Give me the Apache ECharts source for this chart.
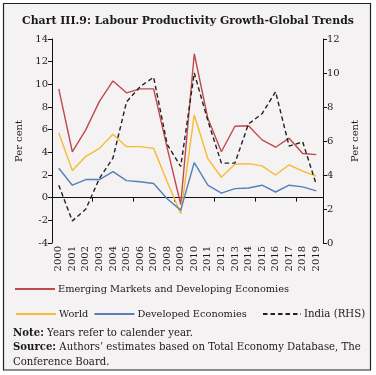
<!DOCTYPE html>
<html><head><meta charset="utf-8">
<script src="https://cdn.jsdelivr.net/npm/echarts@6/dist/echarts.min.js"></script>
<style>html,body{margin:0;padding:0;background:#fff}#c{width:376px;height:375px}</style>
</head><body><div id="c"></div>
<script>
var years = ['2000','2001','2002','2003','2004','2005','2006','2007','2008','2009','2010','2011','2012','2013','2014','2015','2016','2017','2018','2019'];
var emde = [9.6, 4.05, 6.0, 8.5, 10.3, 9.25, 9.6, 9.6, 4.4, -0.6, 12.7, 7.0, 4.05, 6.3, 6.35, 5.1, 4.45, 5.25, 3.9, 3.8];
var world = [5.7, 2.4, 3.65, 4.35, 5.6, 4.5, 4.5, 4.35, 1.4, -1.4, 7.3, 3.45, 1.8, 2.95, 3.0, 2.8, 2.0, 2.9, 2.35, 1.9];
var developed = [2.6, 1.1, 1.6, 1.6, 2.3, 1.5, 1.4, 1.25, -0.1, -1.1, 3.1, 1.1, 0.4, 0.8, 0.85, 1.1, 0.5, 1.1, 0.95, 0.6];
var india = [3.4, 1.3, 2.0, 3.8, 5.0, 8.3, 9.2, 9.75, 5.8, 4.5, 10.0, 7.2, 4.7, 4.7, 7.0, 7.6, 8.9, 5.7, 5.95, 3.45];
var leftTicks = {min: -4, max: 14, interval: 2};
var rightTicks = {min: 0, max: 12, interval: 2};
var seriesNames = ['Emerging Markets and Developing Economies', 'World', 'Developed Economies', 'India (RHS)'];

var F = 'DejaVu Serif';
var chart = echarts.init(document.getElementById('c'));
function line(name, data, color, yIdx, dashed) {
  return {
    name: name, type: 'line', data: data, xAxisIndex: 0, yAxisIndex: yIdx,
    symbol: 'none', smooth: false,
    lineStyle: {color: color, width: 1.4, type: dashed ? [4.5, 3] : 'solid'},
    itemStyle: {color: color}
  };
}
var legendCommon = {
  itemWidth: 40, itemHeight: 10,
  itemStyle: {opacity: 0},
  textStyle: {fontFamily: F, fontSize: 9.8, color: '#1a1a1a', padding: [0, 0, 0, -2]}
};
chart.setOption({
  animation: false,
  backgroundColor: '#ffffff',
  title: {
    text: 'Chart III.9: Labour Productivity Growth-Global Trends',
    left: 'center', top: 11,
    textStyle: {fontFamily: F, fontWeight: 'bold', fontSize: 10.9, color: '#1a1a1a'}
  },
  graphic: [
    {type: 'rect', z: -10, silent: true, shape: {x: 3.5, y: 3.5, width: 367, height: 366.5},
     style: {fill: '#f5f2f3', stroke: '#222', lineWidth: 1.2}},
    {type: 'text', left: 13, top: 326, style: {
      text: '{b|Note:} Years refer to calender year.\n{b|Source:} Authors\u2019 estimates based on Total Economy Database, The\nConference Board.',
      fontFamily: F, fontSize: 10.15, lineHeight: 14.5, fill: '#1a1a1a',
      rich: {b: {fontFamily: F, fontSize: 10.15, fontWeight: 'bold', fill: '#1a1a1a'}}
    }}
  ],
  grid: {left: 52, right: 53, top: 39, bottom: 132},
  legend: [
    Object.assign({data: [seriesNames[0]], left: 9, top: 279, itemGap: 10}, legendCommon),
    Object.assign({data: [seriesNames[1], seriesNames[2]], left: 10, top: 304, itemGap: 5}, legendCommon),
    Object.assign({data: [seriesNames[3]], left: 257, top: 304, itemWidth: 38}, {
      itemHeight: 10, itemStyle: {opacity: 0},
      textStyle: {fontFamily: F, fontSize: 10.2, color: '#1a1a1a', padding: [0, 0, 0, -2]}})
  ],
  xAxis: [
    {type: 'category', data: years, boundaryGap: true,
     axisLine: {onZero: true, lineStyle: {color: '#111', width: 1}},
     axisTick: {show: true, inside: false, length: 4, lineStyle: {color: '#111'}},
     axisLabel: {show: false}, splitLine: {show: false}},
    {type: 'category', data: years, boundaryGap: true, position: 'bottom',
     axisLine: {show: false, onZero: false}, axisTick: {show: false},
     axisLabel: {rotate: 90, margin: 3, fontFamily: F, fontSize: 10, color: '#1a1a1a', interval: 0},
     splitLine: {show: false}}
  ],
  yAxis: [
    {type: 'value', min: leftTicks.min, max: leftTicks.max, interval: leftTicks.interval,
     name: 'Per cent', nameLocation: 'middle', nameGap: 21,
     nameTextStyle: {fontFamily: F, fontSize: 10, color: '#1a1a1a'},
     axisLine: {show: true, lineStyle: {color: '#111'}},
     axisTick: {show: true, length: 4, lineStyle: {color: '#111'}},
     axisLabel: {fontFamily: F, fontSize: 10, color: '#1a1a1a', margin: 4},
     splitLine: {show: false}},
    {type: 'value', min: rightTicks.min, max: rightTicks.max, interval: rightTicks.interval, position: 'right',
     name: 'Per cent', nameLocation: 'middle', nameGap: 21,
     nameTextStyle: {fontFamily: F, fontSize: 10, color: '#1a1a1a'},
     axisLine: {show: true, lineStyle: {color: '#111'}},
     axisTick: {show: true, length: 4, lineStyle: {color: '#111'}},
     axisLabel: {fontFamily: F, fontSize: 10, color: '#1a1a1a', margin: 4},
     splitLine: {show: false}}
  ],
  series: [
    line(seriesNames[0], emde, '#bf4a4d', 0, false),
    line(seriesNames[1], world, '#f6bb2f', 0, false),
    line(seriesNames[2], developed, '#5580b9', 0, false),
    line(seriesNames[3], india, '#222222', 1, true)
  ]
});
</script></body></html>
